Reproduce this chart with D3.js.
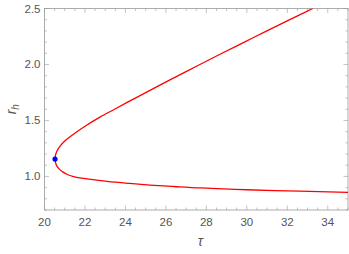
<!DOCTYPE html>
<html>
<head>
<meta charset="utf-8">
<script src="https://cdn.jsdelivr.net/npm/d3@7"></script>
<style>
  body { margin: 0; background: #fff; }
  text { font-family: "Liberation Sans", Arial, sans-serif; }
</style>
</head>
<body>
<div id="chart"></div>
<script>
'use strict';
// points: lower branch from the right edge, round the turning point, then the upper branch
const tau = [35, 32.6, 30, 27.7, 26.4, 25.2, 24.2, 23.1, 22.2, 21.75, 21.4,
             21.13, 20.92, 20.73, 20.62, 20.55, 20.52,
             20.545, 20.6, 20.77, 21.03, 21.38, 22.02, 22.74, 23.46, 24.49,
             25.54, 26.61, 27.68, 28.77, 29.88, 30.99, 32.12, 33.26];
const rh  = [0.857, 0.868, 0.881, 0.897, 0.91, 0.923, 0.937, 0.955, 0.975, 0.987, 1.0,
             1.017, 1.038, 1.065, 1.09, 1.12, 1.155,
             1.19, 1.22, 1.27, 1.32, 1.37, 1.45, 1.53, 1.6, 1.7,
             1.8, 1.9, 2.0, 2.1, 2.2, 2.3, 2.4, 2.5];
const marker = [20.52, 1.155];
const xTicks = [20, 22, 24, 26, 28, 30, 32, 34];
const yTicks = [1.0, 1.5, 2.0, 2.5];

const W = 349, H = 254;
const margin = {top: 8.5, right: 1, bottom: 44, left: 44.5};
const width = W - margin.left - margin.right,
      height = H - margin.top - margin.bottom;

const svg = d3.select("#chart").append("svg")
    .attr("width", W)
    .attr("height", H);
const g = svg.append("g")
    .attr("transform", "translate(" + margin.left + "," + margin.top + ")");

const x = d3.scaleLinear().domain([20, 35]).range([0, width]);
const y = d3.scaleLinear().domain([0.7, 2.5]).range([height, 0]);

const frameColor = "#9a9a9a", labelColor = "#555";

// minor and major ticks on all four sides, pointing inward
const xMinor = d3.range(20, 35.01, 0.5);
const yMinor = d3.range(0.7, 2.501, 0.1);
function isMajorX(v) { return Math.abs(v / 2 - Math.round(v / 2)) < 1e-6; }
function isMajorY(v) { return Math.abs(v / 0.5 - Math.round(v / 0.5)) < 1e-6; }

const ticks = g.append("g").attr("stroke", frameColor).attr("stroke-width", 0.6);
xMinor.forEach(function(v) {
  const len = isMajorX(v) ? 4.5 : 2.5;
  ticks.append("line").attr("x1", x(v)).attr("x2", x(v)).attr("y1", height).attr("y2", height - len);
  ticks.append("line").attr("x1", x(v)).attr("x2", x(v)).attr("y1", 0).attr("y2", len);
});
yMinor.forEach(function(v) {
  const len = isMajorY(v) ? 4.5 : 2.5;
  ticks.append("line").attr("y1", y(v)).attr("y2", y(v)).attr("x1", 0).attr("x2", len);
  ticks.append("line").attr("y1", y(v)).attr("y2", y(v)).attr("x1", width).attr("x2", width - len);
});

g.append("rect")
    .attr("width", width).attr("height", height)
    .attr("fill", "none").attr("stroke", frameColor).attr("stroke-width", 0.8);

g.selectAll(".xl").data(xTicks).enter().append("text")
    .attr("x", function(d) { return x(d); })
    .attr("y", height + 16)
    .attr("text-anchor", "middle")
    .attr("fill", labelColor).attr("font-size", 11.5)
    .text(function(d) { return d; });

g.selectAll(".yl").data(yTicks).enter().append("text")
    .attr("x", -4)
    .attr("y", function(d) { return y(d) + 4; })
    .attr("text-anchor", "end")
    .attr("fill", labelColor).attr("font-size", 11.5)
    .text(function(d) { return d.toFixed(1); });

svg.append("text")
    .attr("x", margin.left + width / 2 + 4)
    .attr("y", 246)
    .attr("text-anchor", "middle")
    .attr("fill", labelColor).attr("font-size", 14)
    .attr("font-style", "italic")
    .text("τ");

const yl = svg.append("text")
    .attr("transform", "translate(16," + (margin.top + y(1.6)) + ") rotate(-90)")
    .attr("text-anchor", "middle")
    .attr("fill", labelColor).attr("font-size", 14)
    .attr("font-style", "italic");
yl.append("tspan").text("r");
yl.append("tspan").attr("font-size", 10).attr("dy", 3).text("h");

const pts = tau.map(function(t, i) { return [t, rh[i]]; });
const line = d3.line()
    .x(function(d) { return x(d[0]); })
    .y(function(d) { return y(d[1]); })
    .curve(d3.curveCatmullRom.alpha(0.5));

g.append("clipPath").attr("id", "clip").append("rect")
    .attr("width", width).attr("height", height);

g.append("path")
    .datum(pts)
    .attr("clip-path", "url(#clip)")
    .attr("fill", "none")
    .attr("stroke", "#ff0000")
    .attr("stroke-width", 1.3)
    .attr("d", line);

g.append("circle")
    .attr("cx", x(marker[0])).attr("cy", y(marker[1]))
    .attr("r", 2.6)
    .attr("fill", "#0000ff");
</script>
</body>
</html>
